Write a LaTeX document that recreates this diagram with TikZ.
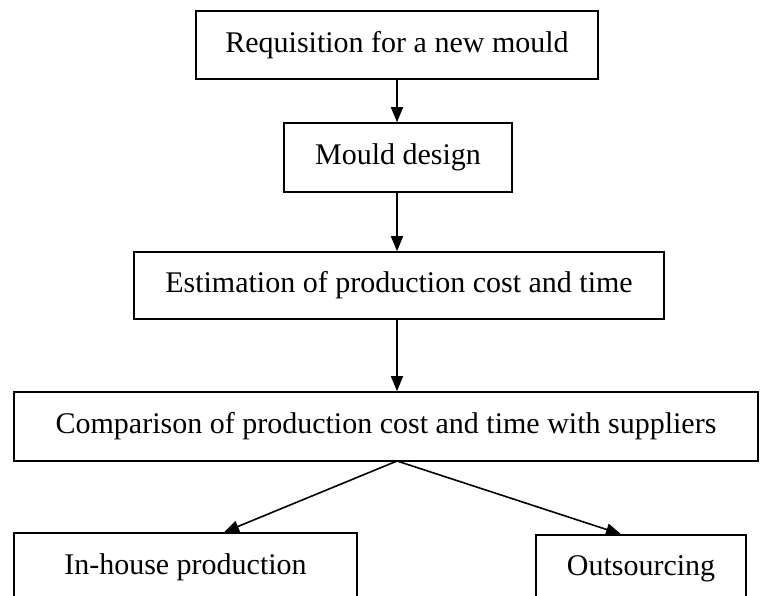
\documentclass[tikz,border=0pt]{standalone}
\usepackage{fontspec}
\setmainfont{Liberation Serif}
\usetikzlibrary{arrows.meta}

\begin{document}
\begin{tikzpicture}[x=1pt,y=-1pt,line width=1.6pt,
    stepbox/.style={draw,inner sep=0pt,font=\fontsize{30}{36}\selectfont},
    arr/.style={-{Triangle[length=15pt,width=12pt]}}]
      \useasboundingbox (0,0) rectangle (762,596);
      \clip (0,0) rectangle (762,596);
      \node[stepbox,minimum width=402,minimum height=68] (req) at (397,45) {Requisition for a new mould};
      \node[stepbox,minimum width=228,minimum height=69] (des) at (398,157.5) {Mould design};
      \node[stepbox,minimum width=530,minimum height=67] (est) at (399,285.5) {Estimation of production cost and time};
      \node[stepbox,minimum width=744,minimum height=69] (cmp) at (386,426.5) {Comparison of production cost and time with suppliers};
      \node[stepbox,minimum width=343,minimum height=68] (inh) at (185.5,567) {In-house production};
      \node[stepbox,minimum width=210,minimum height=68] (out) at (641,569) {Outsourcing};
      \coordinate (fork) at (397,461);
      \coordinate (tipL) at (224,0);
      \coordinate (tipR) at (621,0);
      \draw[arr] (req.south -| fork) -- (des.north -| fork);
      \draw[arr] (des.south -| fork) -- (est.north -| fork);
      \draw[arr] (est.south -| fork) -- (cmp.north -| fork);
      \draw[arr] (fork) -- (inh.north -| tipL);
      \draw[arr] (fork) -- (out.north -| tipR);
    \end{tikzpicture}
\end{document}
